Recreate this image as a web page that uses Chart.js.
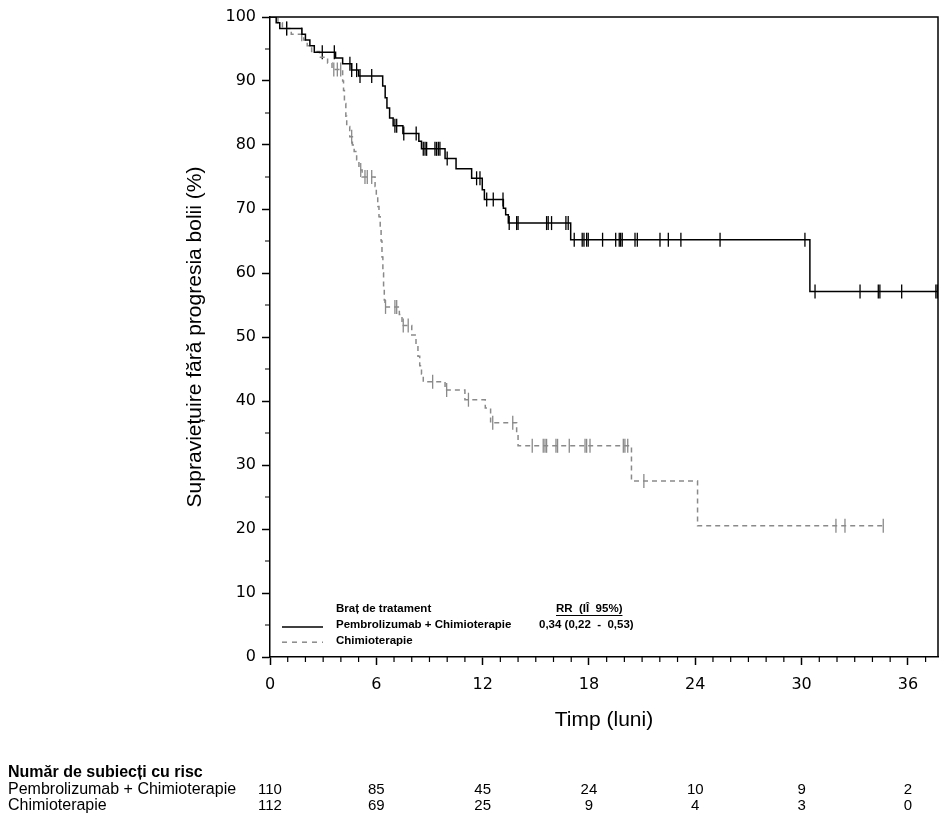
<!DOCTYPE html>
<html lang="ro">
<head>
    <meta charset="UTF-8" />
    <title>Supraviețuire fără progresia bolii</title>
    <script src="https://cdn.jsdelivr.net/npm/chart.js"></script>
    <style>
        body {
          margin: 0;
          background: #fff;
        }

        .chart-container {
          position: relative;
          width: 947px;
          height: 819px;
        }
    </style>
</head>
<body>

<div class="chart-container">
    <canvas id="pfsChart"></canvas>
</div>

<script>
    // x axis ticks (months) and number at risk under each tick
    const monthTicks = [0, 6, 12, 18, 24, 30, 36];
    const armNames = ['Pembrolizumab + Chimioterapie', 'Chimioterapie'];
    const pembroAtRisk = [110, 85, 45, 24, 10, 9, 2];
    const chemoAtRisk = [112, 69, 25, 9, 4, 3, 0];

    // Kaplan-Meier steps: time of event (months) -> survival after it (%)
    const pembroTimes = [0, 0.35, 0.55, 1.8, 2.0, 2.25, 2.5, 3.7, 4.1, 4.6, 5.0, 6.36, 6.5, 6.6, 6.75, 6.95,
      7.5, 8.4, 8.55, 9.88, 10.5, 11.38, 11.98, 12.1, 13.17, 13.3, 13.45, 16.97, 30.47, 37.7];
    const pembroSurv = [100, 99.1, 98.2, 97.3, 96.4, 95.5, 94.5, 93.6, 92.7, 91.7, 90.8, 89.2, 87.4, 85.8, 84.2, 83.0,
      81.8, 80.6, 79.4, 77.9, 76.3, 74.8, 73.0, 71.5, 70.1, 69.1, 67.8, 65.2, 57.1, 57.1];
    const pembroCensored = [0.94, 2.95, 3.63, 4.51, 4.61, 4.89, 5.08, 5.74, 7.05, 7.15, 7.55, 8.25, 8.65, 8.75, 8.84,
      9.31, 9.4, 9.5, 9.59, 10.0, 11.66, 11.85, 12.23, 12.6, 13.15, 13.5, 13.92, 14.0, 15.61, 15.7, 15.89, 16.7, 16.83,
      17.17, 17.62, 17.72, 17.87, 17.96, 18.77, 19.51, 19.71, 19.79, 19.88, 20.6, 20.73, 22.01, 22.48, 23.19, 25.4,
      30.19, 30.76, 33.3, 34.33, 34.42, 35.65, 37.58, 37.66];

    const chemoTimes = [0, 0.45, 0.7, 1.2, 1.9, 2.1, 2.35, 2.8, 3.25, 3.5, 4.1, 4.15, 4.2, 4.28, 4.33, 4.5, 4.65, 4.75,
      4.89, 5.02, 5.2, 5.93, 6.0, 6.08, 6.15, 6.22, 6.27, 6.32, 6.37, 6.41, 6.45, 6.49, 7.3, 7.45, 8.0, 8.24, 8.35,
      8.45, 8.55, 8.65, 9.88, 11.0, 12.15, 12.45, 13.92, 14.0, 20.4, 24.13, 34.61];
    const chemoSurv = [100, 99.1, 98.2, 97.3, 96.4, 95.5, 94.6, 93.7, 92.8, 91.8, 90.0, 88.5, 86.5, 84.5, 82.9, 81.3,
      80.0, 79.0, 77.7, 76.1, 75.0, 73.5, 71.9, 70.4, 68.8, 67.0, 65.0, 62.5, 60.0, 57.5, 55.8, 54.7, 53.5, 51.8,
      50.3, 48.8, 47.0, 45.5, 44.2, 43.0, 41.7, 40.2, 38.9, 36.6, 34.8, 33.0, 27.5, 20.5, 20.5];
    const chemoCensored = [0.94, 1.79, 3.6, 3.8, 3.99, 4.61, 5.12, 5.36, 5.49, 5.74, 6.52, 7.05, 7.15, 7.52, 7.8,
      9.18, 9.97, 11.2, 12.57, 13.7, 14.8, 15.42, 15.52, 15.61, 16.14, 16.23, 16.89, 17.78, 17.87, 18.06, 19.94,
      20.03, 20.19, 21.1, 31.94, 32.45, 34.61];

    const GRAY = '#8a8a8a';
    const TEXT_FONT = "'Liberation Sans', Arial, sans-serif";
    const TICK_FONT = "'DejaVu Sans', Verdana, sans-serif";

    // survival level of a step curve at time t
    function survAt(times, surv, t) {
      let s = surv[0];
      for (let i = 0; i < times.length; i++) {
        if (times[i] <= t) s = surv[i];
      }
      return s;
    }

    const toPoints = (times, surv) => times.map((t, i) => ({ x: t, y: surv[i] }));
    const toCensor = (cens, times, surv) => cens.map(t => ({ x: t, y: survAt(times, surv, t) }));

    // frame, minor ticks, legend box and risk table
    const extrasPlugin = {
      id: 'extras',
      afterDraw(chart) {
        const { ctx, chartArea: a, scales: { x, y } } = chart;
        ctx.save();
        ctx.strokeStyle = '#000';
        ctx.lineWidth = 1.5;

        // top + right frame
        ctx.beginPath();
        ctx.moveTo(a.left, a.top);
        ctx.lineTo(a.right, a.top);
        ctx.lineTo(a.right, a.bottom);
        ctx.stroke();

        // minor ticks
        ctx.lineWidth = 1.2;
        ctx.beginPath();
        for (let m = 1; m <= 37; m++) {
          if (m % 6 === 0) continue;
          const px = x.getPixelForValue(m);
          ctx.moveTo(px, a.bottom);
          ctx.lineTo(px, a.bottom + 5);
        }
        for (let v = 5; v < 100; v += 10) {
          const py = y.getPixelForValue(v);
          ctx.moveTo(a.left - 5, py);
          ctx.lineTo(a.left, py);
        }
        ctx.stroke();

        // legend inside the plot
        const lx = a.left;
        const rowY = [a.bottom - 48, a.bottom - 32, a.bottom - 16.3];
        ctx.fillStyle = '#000';
        ctx.textBaseline = 'middle';
        ctx.textAlign = 'left';
        ctx.font = 'bold 11.5px ' + TEXT_FONT;
        ctx.fillText('Braț de tratament', lx + 66, rowY[0]);
        ctx.fillText(armNames[0], lx + 66, rowY[1]);
        ctx.fillText(armNames[1], lx + 66, rowY[2]);

        const rr = 'RR  (IÎ  95%)';
        ctx.fillText(rr, 556, rowY[0]);
        const rrW = ctx.measureText(rr).width;
        ctx.lineWidth = 1;
        ctx.beginPath();
        ctx.moveTo(556, rowY[0] + 6.5);
        ctx.lineTo(556 + rrW, rowY[0] + 6.5);
        ctx.stroke();
        ctx.fillText('0,34 (0,22  -  0,53)', 539, rowY[1]);

        ctx.lineWidth = 1.5;
        ctx.beginPath();
        ctx.moveTo(lx + 12, rowY[1] + 2);
        ctx.lineTo(lx + 53, rowY[1] + 2);
        ctx.stroke();
        ctx.strokeStyle = GRAY;
        ctx.setLineDash([5, 5]);
        ctx.beginPath();
        ctx.moveTo(lx + 12, rowY[2] + 1.5);
        ctx.lineTo(lx + 53, rowY[2] + 1.5);
        ctx.stroke();
        ctx.setLineDash([]);

        // number at risk table
        ctx.fillStyle = '#000';
        ctx.font = 'bold 16px ' + TEXT_FONT;
        ctx.fillText('Număr de subiecți cu risc', 8, 773);
        ctx.font = '16px ' + TEXT_FONT;
        ctx.fillText(armNames[0], 8, 790);
        ctx.fillText(armNames[1], 8, 806);
        ctx.font = '15px ' + TEXT_FONT;
        ctx.textAlign = 'center';
        monthTicks.forEach((m, i) => {
          const px = x.getPixelForValue(m);
          ctx.fillText(String(pembroAtRisk[i]), px, 790);
          ctx.fillText(String(chemoAtRisk[i]), px, 806);
        });
        ctx.restore();
      }
    };

    const ctx = document.getElementById('pfsChart').getContext('2d');
    new Chart(ctx, {
      type: 'scatter',
      data: {
        datasets: [
          {
            label: armNames[0],
            data: toPoints(pembroTimes, pembroSurv),
            showLine: true,
            stepped: true,
            borderColor: '#000',
            borderWidth: 1.5,
            pointRadius: 0
          },
          {
            label: armNames[1],
            data: toPoints(chemoTimes, chemoSurv),
            showLine: true,
            stepped: true,
            borderColor: GRAY,
            borderWidth: 1.5,
            borderDash: [5, 4],
            pointRadius: 0
          },
          {
            label: 'cenzurat 1',
            data: toCensor(pembroCensored, pembroTimes, pembroSurv),
            showLine: false,
            pointStyle: 'line',
            rotation: 90,
            pointRadius: 7,
            borderColor: '#000',
            borderWidth: 1.3
          },
          {
            label: 'cenzurat 2',
            data: toCensor(chemoCensored, chemoTimes, chemoSurv),
            showLine: false,
            pointStyle: 'line',
            rotation: 90,
            pointRadius: 7,
            borderColor: GRAY,
            borderWidth: 1.3
          }
        ]
      },
      options: {
        responsive: true,
        maintainAspectRatio: false,
        animation: false,
        layout: {
          padding: { left: 179, top: 17, right: 9, bottom: 82.4 }
        },
        plugins: {
          legend: { display: false },
          tooltip: { enabled: false }
        },
        scales: {
          x: {
            type: 'linear',
            min: 0,
            max: 37.7,
            afterFit: s => { s.height = 79.6; },
            ticks: {
              stepSize: 6,
              includeBounds: false,
              autoSkip: false,
              maxRotation: 0,
              padding: 10,
              color: '#000',
              font: { family: TICK_FONT, size: 16 }
            },
            grid: {
              drawOnChartArea: false,
              tickLength: 8,
              tickColor: '#000',
              tickWidth: 1.5
            },
            border: { color: '#000', width: 1.5 },
            title: {
              display: true,
              text: 'Timp (luni)',
              color: '#000',
              font: { family: TEXT_FONT, size: 21 },
              padding: { top: 4, bottom: 4 }
            }
          },
          y: {
            min: 0,
            max: 100,
            afterFit: s => { s.width = 91; },
            ticks: {
              stepSize: 10,
              padding: 6,
              color: '#000',
              font: { family: TICK_FONT, size: 16 }
            },
            grid: {
              drawOnChartArea: false,
              tickLength: 8,
              tickColor: '#000',
              tickWidth: 1.5
            },
            border: { color: '#000', width: 1.5 },
            title: {
              display: true,
              text: 'Supraviețuire fără progresia bolii (%)',
              color: '#000',
              font: { family: TEXT_FONT, size: 21 },
              padding: { top: 4, bottom: 4 }
            }
          }
        }
      },
      plugins: [extrasPlugin]
    });
</script>
</body>
</html>
